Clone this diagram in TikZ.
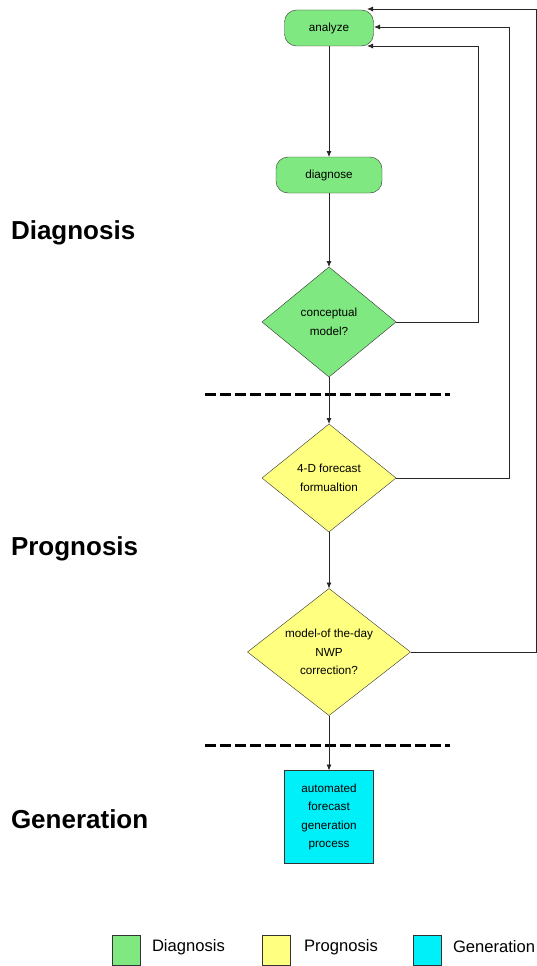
\documentclass[tikz,border=0pt]{standalone}
\usepackage{fontspec}
\setmainfont{Liberation Sans}
\usetikzlibrary{shapes.geometric,arrows.meta}
\definecolor{dgreen}{RGB}{128,232,128}
\definecolor{pyellow}{RGB}{255,255,128}
\definecolor{gcyan}{RGB}{0,240,250}
\begin{document}
\begin{tikzpicture}[x=1pt,y=-1pt,
  every node/.style={font=\fontsize{11.7}{18.5}\selectfont, inner sep=0pt, outer sep=0pt},
  term/.style={draw=black!80, fill=dgreen, rounded corners=12pt, minimum height=36pt, align=center},
  dia/.style={draw=black!80, diamond, aspect=1.22, align=center},
  gbox/.style={draw=black!80, fill=gcyan, minimum width=89pt, minimum height=93pt, align=center},
  conn/.style={draw=black!85, line width=0.8pt},
  arr/.style={conn, -{Latex[length=6pt,width=5pt]}},
  phase/.style={font=\fontsize{26}{30}\selectfont\bfseries, anchor=base west},
  sep/.style={line width=3pt, dash pattern=on 11pt off 4pt},
  leg/.style={draw=black!80, minimum width=28pt, minimum height=30pt},
  legt/.style={font=\fontsize{16.6}{20}\selectfont, anchor=west}
]
\useasboundingbox (0,0) rectangle (537,966);
\fill[white] (0,0) rectangle (537,966);

\node[term, minimum width=89pt] (an) at (329,28) {analyze};
\node[term, minimum width=106pt] (dg) at (329,175) {diagnose};
\node[dia, fill=dgreen, minimum width=134pt, minimum height=110pt] (cm) at (329,322) {conceptual\\model?};
\node[dia, fill=pyellow, minimum width=134pt, minimum height=108pt] (fd) at (329,478) {4-D forecast\\formualtion};
\node[dia, fill=pyellow, minimum width=163pt, minimum height=127pt] (md) at (329,652) {model-of the-day\\NWP\\correction?};
\node[gbox] (ag) at (329,817) {automated\\forecast\\generation\\process};

\node[phase] (pd) at (11,239) {Diagnosis};
\node[phase] (pp) at (11,555) {Prognosis};
\node[phase] (pg) at (11,828) {Generation};

\draw[sep] (205,394) -- (450,394);
\draw[sep] (205,745) -- (450,745);

\draw[arr] (an) -- (dg);
\draw[arr] (dg) -- (cm);
\draw[arr] (cm) -- (fd);
\draw[arr] (fd) -- (md);
\draw[arr] (md) -- (ag);

\coordinate (t1) at (367,46);
\coordinate (t2) at (374,27);
\coordinate (t3) at (367,9);
\draw[arr] (cm.east) -- (478,322) -- (478,46) -- (t1);
\draw[arr] (fd.east) -- (509,478) -- (509,27) -- (t2);
\draw[arr] (md.east) -- (536.5,652) -- (536.5,9) -- (t3);

\node[leg, fill=dgreen] (l1) at (126,950) {};
\node[legt] (l1t) at (152,947) {Diagnosis};
\node[leg, fill=pyellow] (l2) at (276,950) {};
\node[legt] (l2t) at (304,947) {Prognosis};
\node[leg, fill=gcyan] (l3) at (427,950) {};
\node[legt] (l3t) at (453,947) {Generation};
\end{tikzpicture}
\end{document}
